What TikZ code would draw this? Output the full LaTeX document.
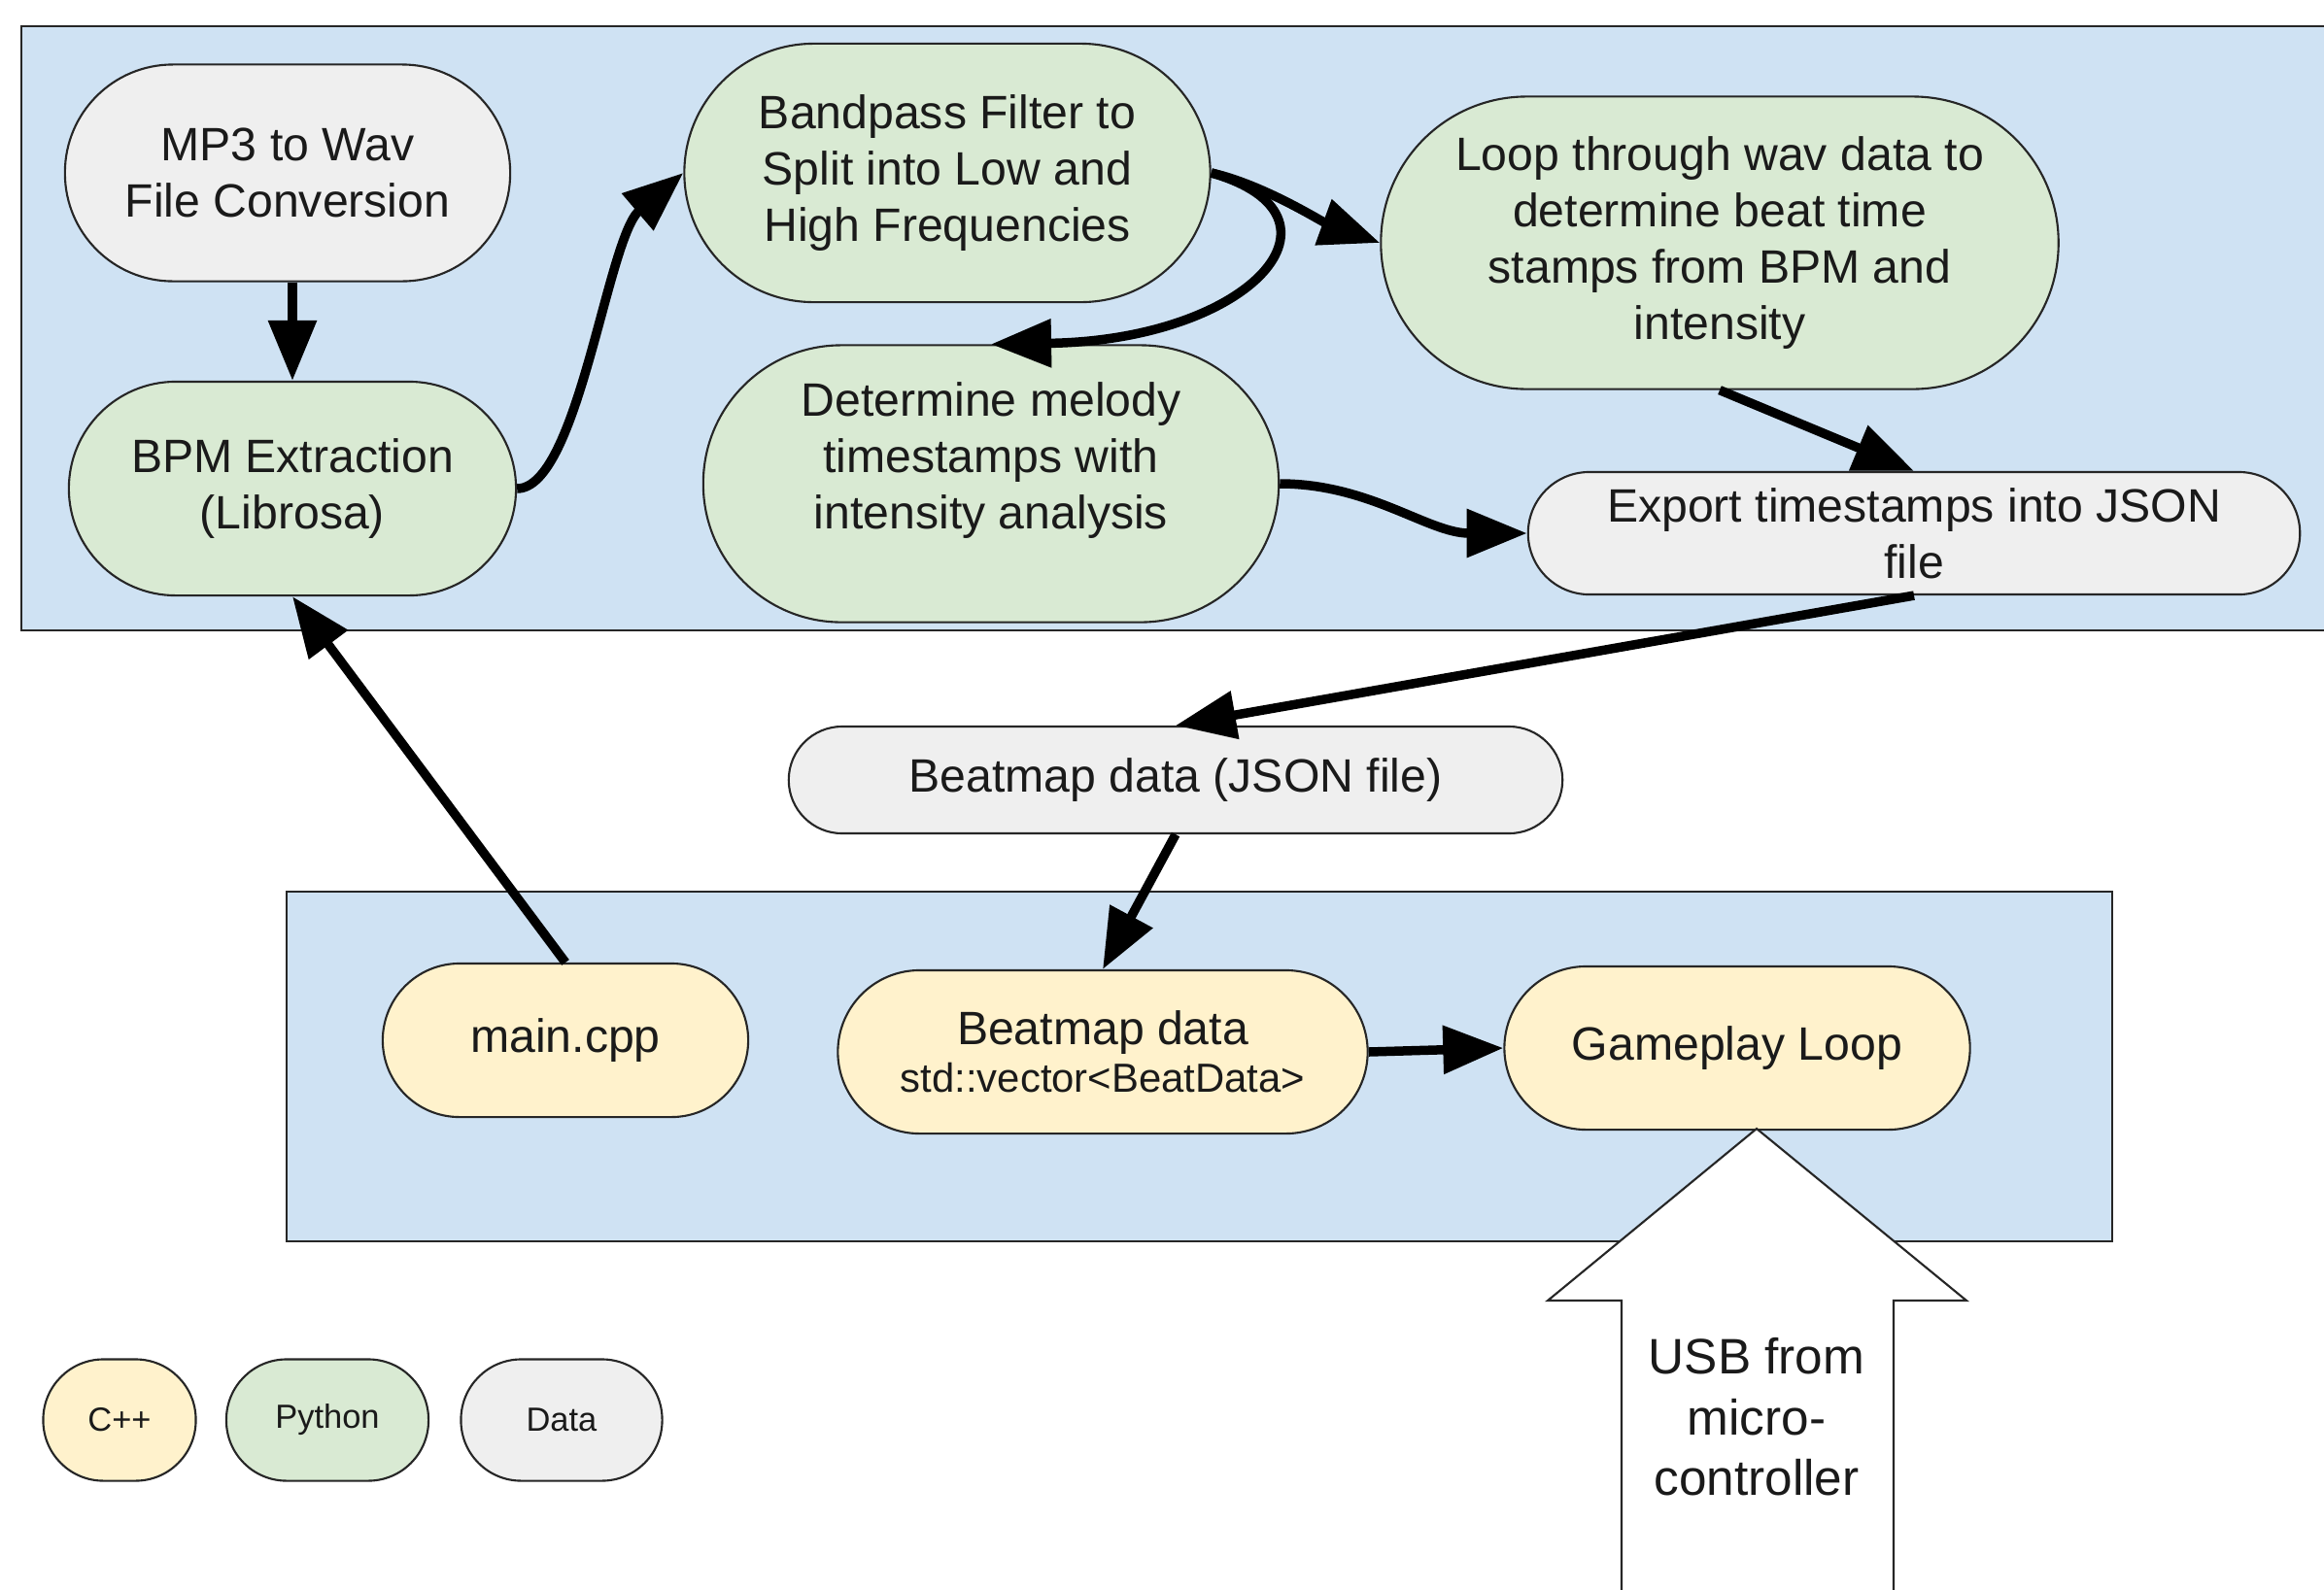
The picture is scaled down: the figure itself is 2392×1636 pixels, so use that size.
\documentclass[tikz,border=0pt]{standalone}
\usepackage{fontspec}
\setmainfont{Liberation Sans}
\usetikzlibrary{arrows.meta}
\definecolor{panelblue}{HTML}{CFE2F3}
\definecolor{pygreen}{HTML}{D9EAD3}
\definecolor{cppyellow}{HTML}{FFF2CC}
\definecolor{datagray}{HTML}{EFEFEF}
\definecolor{edgecol}{HTML}{262626}
\definecolor{textcol}{HTML}{1A1A1A}
\begin{document}
\begin{tikzpicture}[x=0.01cm,y=-0.01cm,
  panel/.style={draw=edgecol, line width=0.6pt, fill=panelblue},
  pill/.style={draw=edgecol, line width=0.6pt, align=center, text=textcol,
    inner sep=0pt, font=\fontsize{13.7}{16.5}\selectfont},
  legendpill/.style={pill, font=\fontsize{9.8}{12}\selectfont,
    minimum height=1.25cm, rounded corners=0.62cm},
  flow/.style={line width=0.095cm, draw=black,
    -{Triangle[length=0.62cm,width=0.48cm]}},
  bigarrow/.style={draw=edgecol, line width=0.6pt, fill=white, line join=miter}
]
\useasboundingbox (0,0) rectangle (2392,1636);

% panels
\draw[panel] (22,27) rectangle (2430,649);
\draw[panel] (295,918) rectangle (2174,1278);

% top panel nodes
\node[pill, fill=datagray, minimum width=4.58cm, minimum height=2.23cm, rounded corners=1.11cm]
  (mp3) at (296,178) {MP3 to Wav\\File Conversion};
\node[pill, fill=pygreen, minimum width=4.60cm, minimum height=2.20cm, rounded corners=1.10cm]
  (bpm) at (301,503) {BPM Extraction\\(Librosa)};
\node[pill, fill=pygreen, minimum width=5.41cm, minimum height=2.66cm, rounded corners=1.33cm]
  (bp) at (975,178) {Bandpass Filter to\\Split into Low and\\High Frequencies};
\node[pill, fill=pygreen, minimum width=6.97cm, minimum height=3.01cm, rounded corners=1.50cm]
  (loop) at (1770,250) {Loop through wav data to\\determine beat time\\stamps from BPM and\\intensity};
\node[pill, fill=pygreen, minimum width=5.92cm, minimum height=2.85cm, rounded corners=1.42cm]
  (mel) at (1020,498) {Determine melody\\timestamps with\\intensity analysis\\\mbox{}};
\node[pill, fill=datagray, minimum width=7.94cm, minimum height=1.26cm, rounded corners=0.63cm]
  (exp) at (1970,549) {Export timestamps into JSON\\file};

% middle data node
\node[pill, fill=datagray, minimum width=7.96cm, minimum height=1.10cm, rounded corners=0.55cm]
  (json) at (1210,803) {Beatmap data (JSON file)};

% bottom panel nodes
\node[pill, fill=cppyellow, minimum width=3.76cm, minimum height=1.58cm, rounded corners=0.79cm]
  (main) at (582,1071) {main.cpp};
\node[pill, fill=cppyellow, minimum width=5.45cm, minimum height=1.68cm, rounded corners=0.84cm]
  (bm) at (1135,1083) {Beatmap data\\[-2.6pt]{\fontsize{11.9}{14.8}\selectfont std::vector<BeatData>}};
\node[pill, fill=cppyellow, minimum width=4.79cm, minimum height=1.68cm, rounded corners=0.84cm]
  (game) at (1788,1079) {Gameplay Loop};

% big USB arrow
\draw[bigarrow] (1808,1162) -- (2024,1339) -- (1949,1339) -- (1949,1660)
  -- (1669,1660) -- (1669,1339) -- (1593,1339) -- cycle;
\node[align=center, text=textcol, font=\fontsize{14.6}{17.8}\selectfont]
  (usb) at (1808,1459) {USB from\\micro-\\controller};

% legend
\node[legendpill, fill=cppyellow, minimum width=1.57cm] (lcpp) at (123,1462) {C++};
\node[legendpill, fill=pygreen, minimum width=2.08cm] (lpy) at (337,1462) {Python};
\node[legendpill, fill=datagray, minimum width=2.07cm] (ldata) at (578,1462) {Data};

% connectors
\draw[flow] (bpm.north |- mp3.south) -- (bpm.north);
\draw[flow] (bpm.east) .. controls (595,503) and (625,245) .. (bp.west);
\draw[flow] (bp.east) .. controls (1300,190) and (1360,228) .. (loop.west);
\draw[flow] (bp.east) .. controls (1400,222) and (1290,350) .. (mel.north);
\draw[flow] (loop.south) -- (exp.north);
\draw[flow] (mel.east) .. controls (1410,498) and (1470,549) .. (exp.west);
\draw[flow] (exp.south) -- (json.north);
\draw[flow] (json.south) -- (bm.north);
\draw[flow] (bm.east) -- (game.west);
\draw[flow] (main.north) -- (bpm.south);
\end{tikzpicture}
\end{document}
